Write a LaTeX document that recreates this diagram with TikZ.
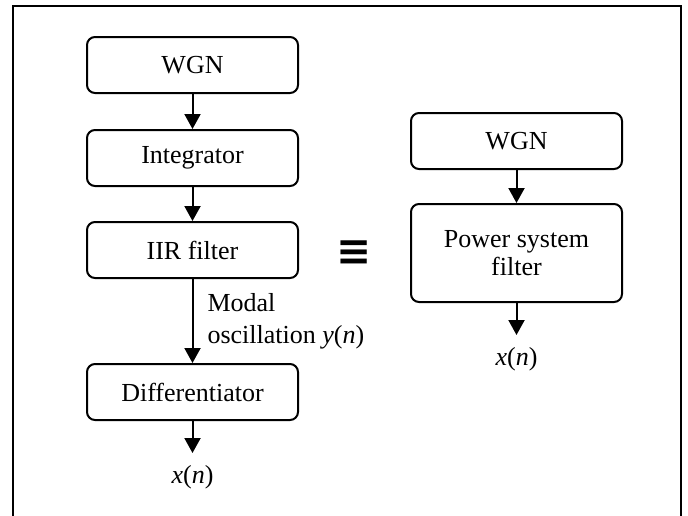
\documentclass[tikz,border=0pt]{standalone}
\usepackage{fontspec}
\setmainfont{Liberation Serif}
\newfontfamily\symfont{DejaVu Sans}
\usetikzlibrary{positioning,arrows.meta}
\tikzset{
  block/.style={draw, line width=1pt, rounded corners=4pt, minimum width=105.5pt,
    minimum height=28pt, align=center, inner sep=2pt, font=\fontsize{13}{14}\selectfont},
  link/.style={line width=1pt, -{Triangle[width=8pt,length=7.5pt]}},
  sig/.style={inner sep=1pt, font=\fontsize{13}{16}\selectfont},
}
\begin{document}
\begin{tikzpicture}
\useasboundingbox (0,0) rectangle (344pt,-257.5pt);
\draw[line width=1.2pt] (6.5pt,-258pt) -- (6.5pt,-3pt) -- (340.5pt,-3pt) -- (340.5pt,-258pt);
% left chain
\node[block] (wgn1) at (96.25pt,-32.5pt) {WGN};
\node[block, below=17.5pt of wgn1] (integ) {Integrator};
\node[block, below=17pt of integ] (iir) {IIR filter};
\node[block, below=42pt of iir] (diff) {Differentiator};
\coordinate[below=16pt of diff] (end1);
\node[sig, below=5pt of end1] (x1) {\textit{x}(\textit{n})};
\draw[link] (wgn1) -- (integ);
\draw[link] (integ) -- (iir);
\draw[link] (iir) -- node[sig, right=6pt, align=left] (modal) {Modal\\oscillation \textit{y}(\textit{n})} (diff);
\draw[link] (diff) -- (end1);
% equivalence
\node (equiv) at (177pt,-126.5pt) {\fontsize{21}{21}\selectfont\symfont\bfseries ≡};
% right chain
\node[block] (wgn2) at (258.25pt,-70.5pt) {WGN};
\node[block, minimum height=49pt, below=16.5pt of wgn2] (psf) {Power system\\filter};
\coordinate[below=16pt of psf] (end2);
\node[sig, below=5pt of end2] (x2) {\textit{x}(\textit{n})};
\draw[link] (wgn2) -- (psf);
\draw[link] (psf) -- (end2);
\end{tikzpicture}
\end{document}
